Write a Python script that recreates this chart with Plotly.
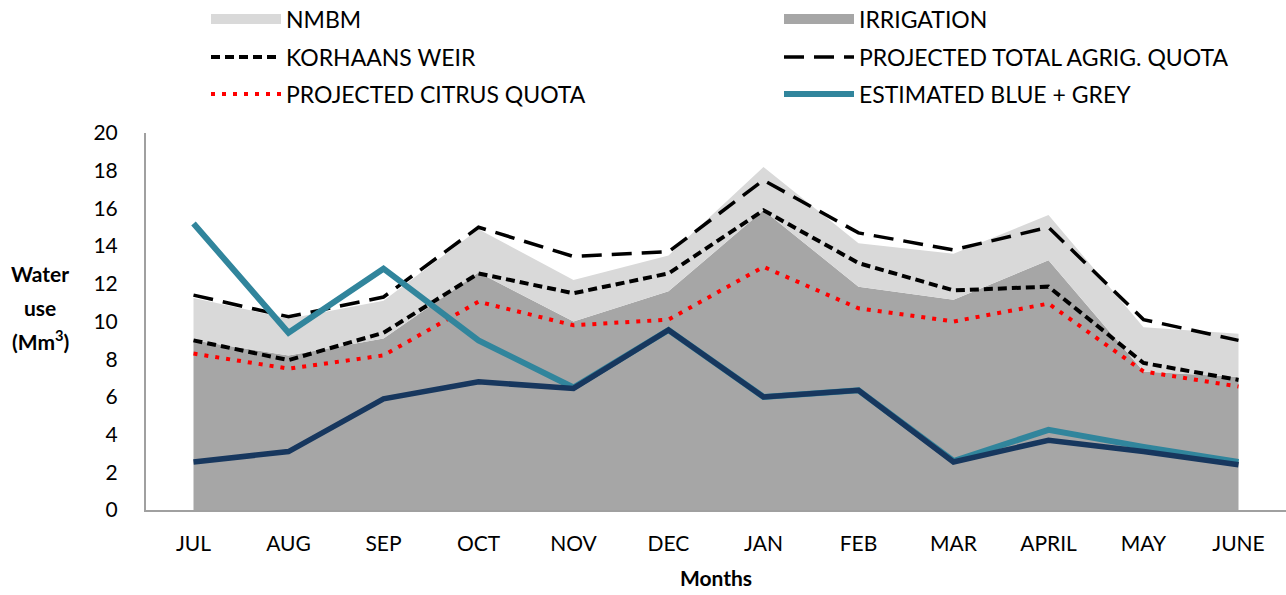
import plotly.graph_objects as go

months = ["JUL", "AUG", "SEP", "OCT", "NOV", "DEC", "JAN", "FEB", "MAR", "APRIL", "MAY", "JUNE"]
irrigation = [9.0, 8.2, 9.1, 12.6, 10.0, 11.6, 15.9, 11.85, 11.15, 13.25, 7.35, 7.05]
nmbm = [2.25, 1.95, 2.0, 2.3, 2.2, 1.9, 2.3, 2.3, 2.45, 2.4, 2.35, 2.3]
korhaans_weir = [9.0, 7.95, 9.4, 12.55, 11.5, 12.55, 15.9, 13.1, 11.65, 11.85, 7.8, 6.9]
proj_total_agric = [11.4, 10.25, 11.3, 15.0, 13.45, 13.7, 17.5, 14.7, 13.8, 15.0, 10.1, 9.0]
proj_citrus = [8.3, 7.5, 8.2, 11.05, 9.8, 10.1, 12.9, 10.7, 10.0, 10.95, 7.35, 6.55]
blue_grey = [15.2, 9.4, 12.8, 9.0, 6.5, 9.55, 6.0, 6.35, 2.6, 4.25, 3.35, 2.55]
blue = [2.55, 3.1, 5.9, 6.8, 6.45, 9.55, 6.0, 6.35, 2.55, 3.7, 3.1, 2.4]

FONT = "Lato"
FS = 21
LFS = 23
NMBM_COL, IRR_COL = "#d9d9d9", "#a6a6a6"
fig = go.Figure()

# stacked areas (legend shown through swatch entries below)
fig.add_trace(go.Scatter(x=months, y=irrigation, name="IRRIGATION", stackgroup="a",
                         mode="none", fillcolor=IRR_COL, showlegend=False))
fig.add_trace(go.Scatter(x=months, y=nmbm, name="NMBM", stackgroup="a",
                         mode="none", fillcolor=NMBM_COL, showlegend=False))
# legend swatches for the areas
fig.add_trace(go.Scatter(x=[None], y=[None], name="NMBM", mode="lines",
                         line=dict(color=NMBM_COL, width=16), legend="legend"))
fig.add_trace(go.Scatter(x=[None], y=[None], name="IRRIGATION", mode="lines",
                         line=dict(color=IRR_COL, width=16), legend="legend2"))

fig.add_trace(go.Scatter(x=months, y=korhaans_weir, name="KORHAANS WEIR", mode="lines",
                         line=dict(color="black", width=4, dash="9px,5px"), legend="legend3"))
fig.add_trace(go.Scatter(x=months, y=proj_total_agric, name="PROJECTED TOTAL AGRIG. QUOTA", mode="lines",
                         line=dict(color="black", width=3.5, dash="20px,10px"), legend="legend4"))
fig.add_trace(go.Scatter(x=months, y=proj_citrus, name="PROJECTED CITRUS QUOTA", mode="lines",
                         line=dict(color="#ff0000", width=4, dash="4px,7px"), legend="legend5"))
fig.add_trace(go.Scatter(x=months, y=blue_grey, name="ESTIMATED BLUE + GREY", mode="lines",
                         line=dict(color="#31859c", width=6), legend="legend6"))
fig.add_trace(go.Scatter(x=months, y=blue, name="ESTIMATED BLUE", mode="lines",
                         line=dict(color="#17375e", width=5.5), showlegend=False))

H = 595 - 133 - 85
W = 1140
def ly(px):
    return (510 - px) / H
def lx(px):
    return (px - 146) / W

leg = dict(orientation="h", xanchor="left", yanchor="middle", itemwidth=70,
           font=dict(family=FONT, size=LFS, color="black"),
           bgcolor="rgba(0,0,0,0)")
c1, c2 = 206, 779

fig.update_layout(
    width=1286, height=595,
    margin=dict(l=146, r=0, t=133, b=85, autoexpand=False),
    plot_bgcolor="white", paper_bgcolor="white",
    font=dict(family=FONT, size=FS, color="black"),
    legend=dict(leg, x=lx(c1), y=ly(19)),
    legend2=dict(leg, x=lx(c2), y=ly(19)),
    legend3=dict(leg, x=lx(c1), y=ly(57)),
    legend4=dict(leg, x=lx(c2), y=ly(57)),
    legend5=dict(leg, x=lx(c1), y=ly(94)),
    legend6=dict(leg, x=lx(c2), y=ly(94)),
    xaxis=dict(range=[-0.5, 11.5], showgrid=False, showline=True, linecolor="#a0a0a0", linewidth=2,
               ticks="", tickfont=dict(family=FONT, size=FS, color="black"), ticklabelstandoff=14,
               title=dict(text="<b>Months</b>", font=dict(family=FONT, size=FS, color="black"), standoff=17)),
    yaxis=dict(range=[0, 20], dtick=2, showgrid=False, showline=True, linecolor="#a0a0a0", linewidth=2,
               ticks="", zeroline=False, tickfont=dict(family=FONT, size=FS, color="black"),
               ticklabelstandoff=22),
)

for txt, ypx in [("<b>Water</b>", 273), ("<b>use</b>", 307), ("<b>(Mm<sup>3</sup>)</b>", 340)]:
    fig.add_annotation(text=txt, xref="paper", yref="paper", x=lx(40), y=ly(ypx),
                       xanchor="center", yanchor="middle", showarrow=False,
                       font=dict(family=FONT, size=FS, color="black"))

fig.write_html("out.html", config={"displayModeBar": False},
               post_script="document.body.style.margin='0';")
